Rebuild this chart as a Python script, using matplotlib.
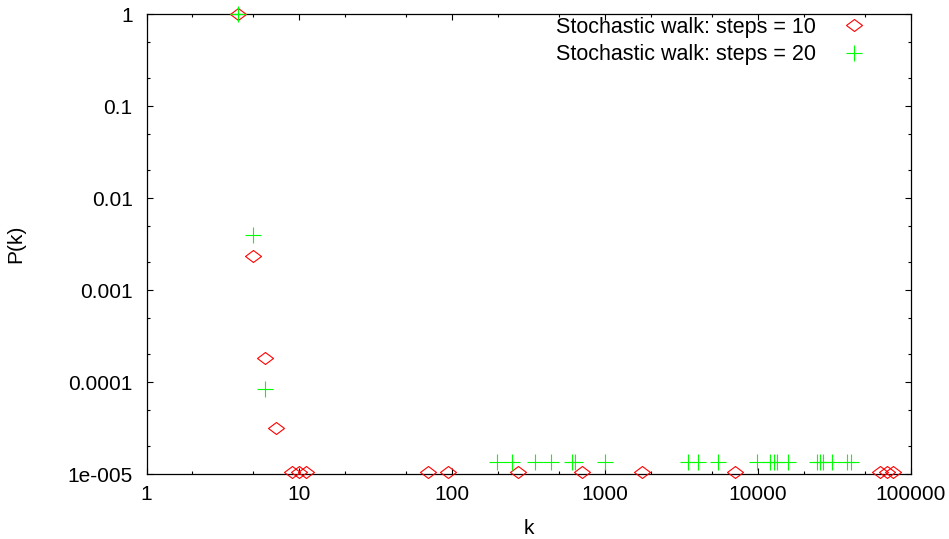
import numpy as np
import matplotlib.pyplot as plt
from matplotlib.path import Path
from matplotlib.ticker import FixedLocator, NullFormatter

plt.rcParams['font.family'] = ['Liberation Sans', 'DejaVu Sans']

# steps = 10 (red diamonds)
k10 = [4, 5, 6, 7, 9, 10, 11, 70, 94, 269, 711, 1750, 7100, 63100, 69900, 77200]
p10 = [1.0, 0.00234, 1.81e-4, 3.19e-5, 1.06e-5, 1.06e-5, 1.06e-5, 1.06e-5, 1.06e-5,
       1.06e-5, 1.06e-5, 1.06e-5, 1.06e-5, 1.06e-5, 1.06e-5, 1.06e-5]

# steps = 20 (green crosses)
k20 = [4, 5, 6, 198, 248, 349, 444, 606, 637, 1000, 3500, 4060, 5470, 9890, 12000,
       12800, 13400, 15800, 24300, 25600, 26800, 30500, 38200, 40800]
p20 = [1.0, 0.004, 8.3e-5] + [1.36e-5] * 21

yticks = [1e-5, 1e-4, 1e-3, 1e-2, 1e-1, 1]
ytick_labels = ['1e-005', '0.0001', '0.001', '0.01', '0.1', '1']
xticks = [1, 10, 100, 1000, 10000, 100000]
xtick_labels = ['1', '10', '100', '1000', '10000', '100000']

# gnuplot-like flat diamond
diamond = Path([(-1, 0), (0, 0.75), (1, 0), (0, -0.75), (-1, 0)],
               [Path.MOVETO, Path.LINETO, Path.LINETO, Path.LINETO, Path.CLOSEPOLY])

fig = plt.figure(figsize=(9.49, 5.39), dpi=100)
ax = fig.add_axes([146.5 / 949, 65 / 539, 764 / 949, 460 / 539])

ax.plot(k10, p10, linestyle='none', marker=diamond, markersize=11.5,
        markerfacecolor='none', markeredgecolor='#ff0000', markeredgewidth=0.8,
        label='Stochastic walk: steps = 10', clip_on=False, zorder=3)
ax.plot(k20, p20, linestyle='none', marker='+', markersize=11.5,
        color='#00ff00', markeredgewidth=0.8,
        label='Stochastic walk: steps = 20', clip_on=False, zorder=3)

ax.set_xscale('log')
ax.set_yscale('log')
ax.set_xlim(1, 100000)
ax.set_ylim(1e-5, 1)

ax.xaxis.set_major_locator(FixedLocator(xticks))
ax.set_xticklabels(xtick_labels)
ax.yaxis.set_major_locator(FixedLocator(yticks))
ax.set_yticklabels(ytick_labels)

xminor = [m * 10 ** e for e in range(0, 5) for m in (2, 5)]
yminor = [m * 10.0 ** e for e in range(-5, 0) for m in (2, 5)]
ax.xaxis.set_minor_locator(FixedLocator(xminor))
ax.yaxis.set_minor_locator(FixedLocator(yminor))
ax.xaxis.set_minor_formatter(NullFormatter())
ax.yaxis.set_minor_formatter(NullFormatter())

ax.tick_params(which='both', direction='in', top=True, right=True, labelsize=15,
               width=0.8, colors='black')
ax.tick_params(which='major', length=4)
ax.tick_params(which='minor', length=2)
ax.tick_params(axis='y', pad=10)
ax.tick_params(axis='x', pad=8)

for s in ax.spines.values():
    s.set_linewidth(0.9)

ax.set_xlabel('k', fontsize=15, labelpad=11)
ax.set_ylabel('P(k)', fontsize=15, labelpad=30)

ax.legend(loc='upper right', bbox_to_anchor=(0.952, 0.994), frameon=False,
          markerfirst=False, fontsize=15.5, borderpad=0, borderaxespad=0,
          handletextpad=0.9, labelspacing=0.3, handlelength=1.8)

fig.savefig('out.png', dpi=100)
